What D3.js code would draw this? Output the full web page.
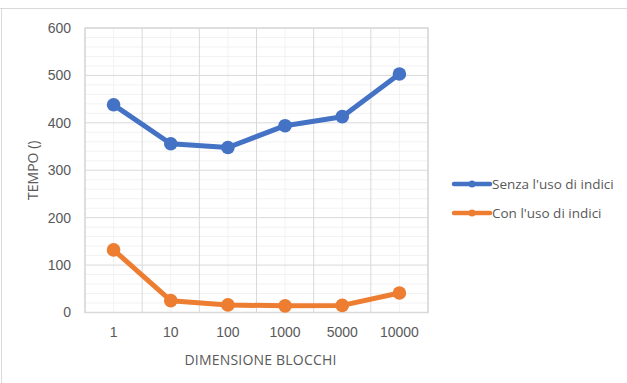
<!DOCTYPE html>
<html>
<head>
<meta charset="utf-8">
<script src="https://cdn.jsdelivr.net/npm/d3@7"></script>
<style>
  html, body { margin: 0; padding: 0; background: #fff; }
  svg { display: block; font-family: "Open Sans", "Liberation Sans", sans-serif; }
</style>
</head>
<body>
<svg id="chart" width="627" height="383"></svg>
<script>
// Block sizes tested and measured times
const categories = ["1", "10", "100", "1000", "5000", "10000"];
const senzaIndici = [438, 356, 348, 394, 413, 503];
const conIndici = [132, 25, 16, 14, 15, 41];
const yTicks = [0, 100, 200, 300, 400, 500, 600];
const seriesNames = ["Senza l'uso di indici", "Con l'uso di indici"];
const seriesColors = ["#4472c4", "#ed7d31"];

const svg = d3.select("#chart");
const plot = { left: 85, right: 428, top: 28, bottom: 312.5 };
const textColor = "#595959";

// chart frame (top and left edges)
svg.append("line").attr("x1", 0).attr("x2", 627).attr("y1", 8.5).attr("y2", 8.5)
  .attr("stroke", "#d9d9d9").attr("stroke-width", 1);
svg.append("line").attr("x1", 1.5).attr("x2", 1.5).attr("y1", 8).attr("y2", 383)
  .attr("stroke", "#d9d9d9").attr("stroke-width", 1);

const x = d3.scaleBand().domain(categories).range([plot.left, plot.right]);
const y = d3.scaleLinear().domain([0, 600]).range([plot.bottom, plot.top]);

const grid = svg.append("g");
// minor horizontal lines every 20
d3.range(0, 601, 20).filter(v => v % 100 !== 0).forEach(v => {
  grid.append("line").attr("x1", plot.left).attr("x2", plot.right)
    .attr("y1", y(v)).attr("y2", y(v)).attr("stroke", "#f2f2f2").attr("stroke-width", 1);
});
// minor vertical lines at category centres
categories.forEach(c => {
  const cx = x(c) + x.bandwidth() / 2;
  grid.append("line").attr("x1", cx).attr("x2", cx)
    .attr("y1", plot.top).attr("y2", plot.bottom).attr("stroke", "#f2f2f2").attr("stroke-width", 1);
});
// major horizontal lines
yTicks.forEach(v => {
  grid.append("line").attr("x1", plot.left).attr("x2", plot.right)
    .attr("y1", y(v)).attr("y2", y(v)).attr("stroke", "#d9d9d9").attr("stroke-width", 1);
});
// major vertical lines at band edges
categories.concat([null]).forEach(c => {
  const bx = c === null ? plot.right : x(c);
  grid.append("line").attr("x1", bx).attr("x2", bx)
    .attr("y1", plot.top).attr("y2", plot.bottom).attr("stroke", "#d9d9d9").attr("stroke-width", 1);
});
// plot area outline
grid.append("rect").attr("x", plot.left).attr("y", plot.top)
  .attr("width", plot.right - plot.left).attr("height", plot.bottom - plot.top)
  .attr("fill", "none").attr("stroke", "#d9d9d9").attr("stroke-width", 1.5);

// y axis labels
const yAxis = d3.axisLeft(y).tickValues(yTicks).tickSize(0).tickPadding(14);
const gy = svg.append("g").attr("transform", `translate(${plot.left},0)`).call(yAxis);
gy.select(".domain").remove();
gy.selectAll("text").attr("fill", textColor).style("font-size", "14px");

// x axis labels
const xAxis = d3.axisBottom(x).tickSize(0);
const gx = svg.append("g").attr("transform", `translate(0,${plot.bottom})`).call(xAxis);
gx.select(".domain").remove();
gx.selectAll("text").attr("fill", textColor).style("font-size", "14px")
  .attr("y", 24.5).attr("dy", 0);

// axis titles
svg.append("text").attr("x", (plot.left + plot.right) / 2 + 4).attr("y", 365)
  .attr("text-anchor", "middle").attr("fill", textColor).style("font-size", "14px")
  .style("letter-spacing", "0.2px").text("DIMENSIONE BLOCCHI");
svg.append("text").attr("transform", `translate(38,${(plot.top + plot.bottom) / 2}) rotate(-90)`)
  .attr("text-anchor", "middle").attr("fill", textColor).style("font-size", "14px")
  .text("TEMPO ()");

// series
const line = d3.line().x((d, i) => x(categories[i]) + x.bandwidth() / 2).y(d => y(d));
[senzaIndici, conIndici].forEach((vals, s) => {
  svg.append("path").datum(vals).attr("d", line).attr("fill", "none")
    .attr("stroke", seriesColors[s]).attr("stroke-width", 5)
    .attr("stroke-linejoin", "round").attr("stroke-linecap", "round");
  svg.append("g").selectAll("circle").data(vals).join("circle")
    .attr("cx", (d, i) => x(categories[i]) + x.bandwidth() / 2)
    .attr("cy", d => y(d)).attr("r", 6.8).attr("fill", seriesColors[s]);
});

// legend
const legend = svg.append("g");
seriesNames.forEach((name, i) => {
  const ly = 184 + i * 29;
  legend.append("line").attr("x1", 454).attr("x2", 490).attr("y1", ly).attr("y2", ly)
    .attr("stroke", seriesColors[i]).attr("stroke-width", 4.5).attr("stroke-linecap", "round");
  legend.append("circle").attr("cx", 472).attr("cy", ly).attr("r", 3.5).attr("fill", seriesColors[i]);
  legend.append("text").attr("x", 492).attr("y", ly + 4.5).attr("fill", textColor)
    .style("font-size", "13.5px").text(name);
});
</script>
</body>
</html>
